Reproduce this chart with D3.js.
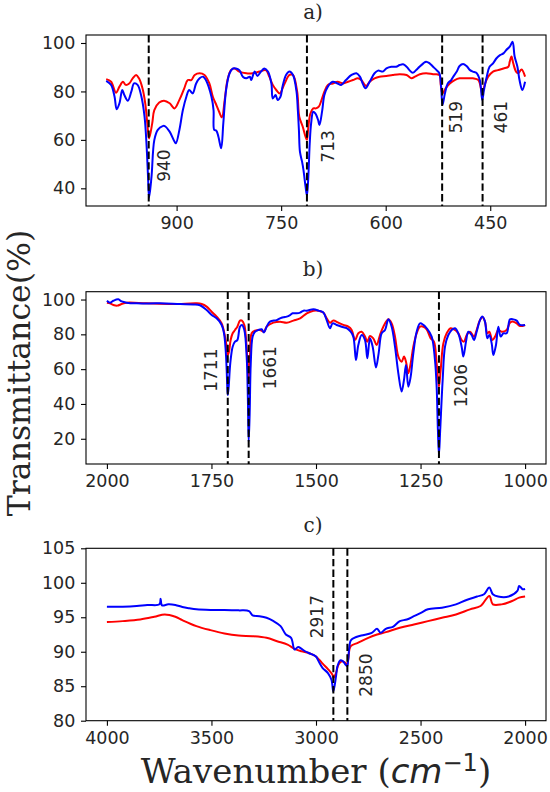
<!DOCTYPE html>
<html><head><meta charset="utf-8">
<script src="https://cdn.jsdelivr.net/npm/d3@7"></script>
<style>body{margin:0;background:#fff}</style>
</head><body>
<svg id="chart" width="550" height="792"></svg>
<script>
// ---------------- DATA ----------------
// Panel a) 1000–400 cm-1  [wavenumber, transmittance]
const aRed = [[1001,85.1],[994,84.0],[987,79.5],[982,82.0],[977,84.0],[973,82.7],[968,83.3],[963,85.4],[958,86.8],[954,85.4],[949,81.3],[945,75.1],[942,66.8],[939.5,60.6],[935,66.8],[932,72.3],[925,75.4],[918,76.2],[910,75.1],[903,73.0],[896,76.5],[889,81.3],[884,84.7],[879,84.7],[874,86.8],[867,87.5],[860,86.8],[853,83.3],[848,77.8],[843,74.4],[839,71.6],[835,69.3],[831,76.5],[827,84.7],[822,88.8],[817,89.5],[810,88.2],[800,87.5],[791,87.5],[781,88.2],[772,88.8],[767,86.1],[762,82.7],[757,80.6],[752,79.2],[745,83.3],[738,86.8],[733,86.8],[727,79.9],[724,69.6],[719,65.4],[715,61.3],[713,60.0],[711,65.4],[708,70.9],[704,73.0],[700,73.0],[696,73.7],[692,76.5],[688,79.9],[683,82.7],[676,83.3],[669,84.0],[661,83.3],[654,84.0],[647,84.7],[640,85.4],[635,84.7],[630,82.7],[628,82.2],[623,84.0],[616,85.4],[609,86.1],[599,86.4],[590,86.8],[580,87.1],[570,86.8],[563,85.4],[558,86.1],[551,87.1],[542,87.5],[532,87.1],[523,86.8],[521,82.7],[518.5,79.2],[514,81.3],[508,83.3],[501,84.7],[494,85.4],[484,85.4],[475,85.4],[467,84.7],[461.5,79.2],[458,82.7],[453,86.1],[446,88.2],[439,88.8],[431,89.5],[424,90.2],[422,92.3],[419.5,94.4],[417,91.6],[413,88.2],[410,87.5],[405,89.1],[400,86.1]];
const aBlue = [[1001,84.4],[994,82.7],[989,77.8],[986,72.6],[982,75.1],[978,80.6],[975,78.5],[970,76.2],[965,79.9],[961,83.3],[956,82.7],[951,78.5],[946,69.6],[943,57.2],[941,44.8],[939.5,36.1],[936,44.8],[932,59.9],[927,64.1],[920,65.7],[917,65.7],[910,63.4],[903,59.3],[901,58.6],[896,64.1],[891,72.3],[886,77.8],[882,80.6],[877,79.2],[872,83.3],[867,85.4],[862,86.1],[858,84.7],[850,77.8],[847,72.3],[846,64.1],[843,63.8],[840,61.3],[836,56.5],[833,66.8],[829,80.6],[824,87.5],[819,89.5],[815,89.5],[810,88.8],[805,86.1],[800,85.4],[795,86.1],[793,84.7],[788,88.2],[784,86.4],[779,88.2],[774,89.5],[769,88.2],[764,83.3],[762,77.1],[758,78.5],[755,76.5],[751,77.8],[748,82.0],[743,86.8],[738,88.2],[733,86.8],[728,80.0],[726,72.0],[724.5,64.0],[723,55.0],[720,51.0],[718,47.6],[715,40.7],[713,37.0],[711,44.8],[709,58.6],[707,66.8],[704,71.6],[701,70.9],[697,68.2],[695,66.1],[691,72.3],[688,78.5],[683,82.0],[676,84.0],[669,83.3],[664,82.7],[657,84.7],[649,86.8],[642,87.5],[637,86.1],[633,83.3],[629,81.3],[623,84.0],[616,87.5],[611,88.6],[604,88.2],[599,89.5],[592,90.2],[585,90.2],[580,90.9],[575,91.2],[570,90.2],[566,88.8],[561,87.7],[554,89.5],[546,91.6],[542,92.3],[537,91.6],[532,90.2],[527,88.8],[523,87.5],[520.5,82.0],[518.5,74.4],[515,79.2],[511,83.3],[506,84.7],[503,86.1],[498,88.2],[494,90.5],[489,91.3],[484,90.5],[479,88.8],[475,88.2],[470,87.7],[465,84.7],[461.5,76.5],[459,80.6],[455,86.1],[451,90.2],[446,91.6],[441,93.7],[436,95.0],[431,95.7],[427,97.1],[422,98.5],[418,100.5],[415,94.4],[411,90.2],[408,84.7],[404,80.6],[400,84.0]];
const aXTicks = [900, 750, 600, 450];
const aYTicks = [40, 60, 80, 100];
const aPeaks = [940, 713, 519, 461];
const aPeakLabels = ["940", "713", "519", "461"];
const aLabelAt = [[927.7,42.7],[691.8,50.6],[507.7,62.7],[443.2,62.7]];

// Panel b) 2000–1000 cm-1
const bRed = [[2000,98.2],[1992.6,97.8],[1984.7,96.9],[1975.1,96.5],[1964.7,97.4],[1952.8,98.2],[1905,97.8],[1841.2,97.4],[1785.4,97.8],[1773.4,97.4],[1761.5,95.9],[1749.5,93.0],[1737.6,90.2],[1725.6,86.3],[1717.6,78.7],[1713.6,72.9],[1711,68.1],[1708.1,70.0],[1704.1,76.7],[1699.3,80.6],[1693.7,82.5],[1688.1,84.4],[1681.8,87.9],[1677,87.9],[1671.4,85.4],[1667.4,77.7],[1664.2,65.2],[1661,54.7],[1657.8,67.2],[1653.9,80.6],[1645.9,82.1],[1634,82.5],[1624.4,81.5],[1618,84.4],[1602.1,86.7],[1586,87.3],[1570,86.7],[1554,87.9],[1538,89.2],[1522,92.1],[1506,93.6],[1494,93.6],[1482.5,92.5],[1474.5,89.2],[1466.5,86.7],[1458.6,87.9],[1446.6,86.7],[1434.7,85.4],[1422.7,84.4],[1414.7,82.5],[1406.7,76.7],[1398.8,80.6],[1390.8,81.5],[1382.8,78.7],[1377.3,75.8],[1370.9,79.0],[1363,77.7],[1355,73.9],[1347,79.6],[1339,84.4],[1327,88.6],[1319.1,86.3],[1311.1,78.7],[1303.1,67.2],[1295.2,64.3],[1289.6,67.2],[1284.8,64.3],[1279.2,57.6],[1273.6,63.3],[1267.3,72.9],[1259.3,80.6],[1251.3,84.4],[1243.3,84.4],[1235.4,82.9],[1225.8,77.7],[1217.9,75.8],[1211.5,63.3],[1206,49.9],[1201.9,59.5],[1195.5,74.8],[1187.5,80.6],[1178,83.5],[1167.6,82.5],[1159.7,80.6],[1151.7,76.7],[1146.1,75.8],[1139.7,79.6],[1131.7,81.5],[1122.2,78.7],[1115.8,82.5],[1107.8,88.2],[1101.5,89.8],[1095.9,87.3],[1090.3,80.6],[1085.5,81.5],[1078.3,76.7],[1071.9,78.7],[1064,82.5],[1056,81.5],[1044.1,82.5],[1036.1,86.7],[1028.1,87.3],[1020.2,86.3],[1012.2,84.8],[1000,85.4]];
const bBlue = [[2000,99.3],[1992.6,98.2],[1984.7,99.3],[1972.7,100.1],[1964.7,98.9],[1952.8,98.2],[1928.9,97.8],[1873.1,97.8],[1825.2,97.4],[1793.4,97.2],[1777.4,96.7],[1761.5,94.0],[1749.5,91.1],[1737.6,89.2],[1725.6,85.4],[1720,80.6],[1716,71.0],[1713.6,59.5],[1712.2,49.9],[1711,45.1],[1708.8,49.9],[1705,63.3],[1699.3,72.9],[1693.7,75.8],[1688.1,76.7],[1681.8,84.4],[1677,85.4],[1671.4,82.5],[1665.8,67.2],[1663,44.2],[1661,18.3],[1658.6,34.6],[1656,63.3],[1651.5,78.7],[1645.9,81.5],[1637.9,82.5],[1630,82.9],[1624.4,81.0],[1618,84.4],[1610,87.3],[1594,88.2],[1586,89.2],[1578,89.8],[1570,90.2],[1562,91.1],[1556,92.1],[1546,92.1],[1538,92.5],[1530,93.6],[1522,93.6],[1506,94.4],[1494,93.6],[1482.5,92.5],[1474.5,88.2],[1466.5,83.5],[1460.2,86.3],[1450.6,85.4],[1438.6,84.4],[1426.7,83.5],[1417.1,81.5],[1410.7,78.7],[1404.4,65.2],[1398.8,73.9],[1390.8,79.6],[1382.8,76.7],[1377.3,66.2],[1370.9,77.7],[1364.5,72.9],[1356.5,61.0],[1350.2,69.1],[1343,80.6],[1335,82.5],[1327,88.6],[1319.1,84.4],[1311.1,72.9],[1303.1,57.6],[1295.2,47.1],[1289.6,53.8],[1284.8,62.4],[1279.2,49.9],[1273.6,55.7],[1267.3,69.1],[1259.3,81.5],[1251.3,86.3],[1243.3,85.4],[1235.4,83.5],[1223.4,78.7],[1215.5,65.2],[1211.5,49.9],[1208.5,25.0],[1206,10.7],[1203,25.0],[1197.1,53.8],[1191.5,72.9],[1183.6,79.6],[1175.6,82.5],[1167.6,83.5],[1159.7,80.6],[1151.7,72.9],[1147.7,67.2],[1141.3,75.8],[1135.7,81.5],[1127.8,79.6],[1122.2,76.7],[1115.8,81.5],[1107.8,88.2],[1102.3,90.2],[1095.9,87.3],[1090.3,77.7],[1085.5,79.6],[1079.9,74.8],[1075.9,68.1],[1069.6,73.9],[1064,84.4],[1058.4,78.7],[1052.1,80.6],[1044.1,80.6],[1036.1,88.6],[1028.1,88.6],[1020.2,87.9],[1012.2,85.4],[1000,85.4]];
const bXTicks = [2000, 1750, 1500, 1250, 1000];
const bYTicks = [20, 40, 60, 80, 100];
const bPeaks = [1711, 1661, 1206];
const bPeakLabels = ["1711", "1661", "1206"];
const bLabelAt = [[1765.4,47.0],[1624.3,48.4],[1167.6,38.1]];

// Panel c) 4000–2000 cm-1
const cRed = [[4000,94.3],[3924.5,94.44],[3840.6,94.68],[3773.5,95.07],[3723.2,95.41],[3672.8,95.07],[3639.3,94.58],[3572.1,93.72],[3505,93.13],[3437.9,92.65],[3370.8,92.35],[3303.7,92.26],[3236.6,92.02],[3186.2,91.53],[3135.9,91.04],[3102.3,90.41],[3068.8,90.07],[3035.2,89.82],[3001.6,89.34],[2984.9,88.85],[2968.1,88.27],[2942.9,87.49],[2921.1,86.66],[2917,86.2],[2904.3,86.91],[2892.6,88.12],[2875.8,88.61],[2859,88.37],[2851,88.1],[2846,88.85],[2833.9,90.8],[2800.3,91.28],[2750,92.02],[2708,92.5],[2666.1,92.84],[2599,93.47],[2531.8,93.96],[2464.7,94.44],[2397.6,94.93],[2330.5,95.41],[2263.4,96.15],[2213,96.63],[2171.1,98.09],[2154.3,96.87],[2112.4,96.87],[2062,97.36],[2028.5,97.85],[2000,98.0]];
const cBlue = [[4000,96.54],[3924.5,96.54],[3857.4,96.63],[3807,96.78],[3748.3,96.87],[3743.3,97.7],[3736.6,96.73],[3706.4,96.87],[3672.8,96.78],[3639.3,96.49],[3605.7,96.30],[3572.1,96.15],[3505,96.06],[3437.9,96.06],[3370.8,96.0],[3320.5,95.9],[3303.7,95.27],[3270.1,95.16],[3236.6,94.93],[3203,94.44],[3169.4,93.72],[3144.3,92.5],[3119.1,92.02],[3102.3,90.31],[3085.5,90.7],[3068.8,90.41],[3052,90.07],[3035.2,89.82],[3001.6,89.34],[2984.9,88.46],[2968.1,87.64],[2942.9,86.91],[2926.1,85.93],[2917,84.23],[2904.3,86.42],[2897.6,87.88],[2884.2,88.75],[2870.8,88.61],[2859,88.12],[2851,87.9],[2846,88.85],[2833.9,91.62],[2817.1,92.02],[2783.5,92.35],[2733.2,92.74],[2708,93.33],[2691.2,92.74],[2666.1,93.33],[2632.5,93.62],[2599,94.44],[2565.4,94.68],[2531.8,95.16],[2498.3,95.65],[2464.7,96.15],[2397.6,96.39],[2330.5,96.87],[2280.2,97.51],[2229.8,98.0],[2196.3,98.34],[2171.1,99.31],[2154.3,98.34],[2129.1,98.0],[2078.8,98.0],[2036.9,98.82],[2028.5,99.55],[2012,99.07],[2000,99.1]];
const cXTicks = [4000, 3500, 3000, 2500, 2000];
const cYTicks = [80, 85, 90, 95, 100, 105];
const cPeaks = [2917, 2850];
const cPeakLabels = ["2917", "2850"];
const cLabelAt = [[3026.8,91.95],[2792,83.48]];

const panelTitles = ["a)", "b)", "c)"];
const yAxisTitle = "Transmittance(%)";

// ---------------- DRAW ----------------
const svg = d3.select('#chart');
const L = 86, R = 546;
const SANS = "'DejaVu Sans', sans-serif";
const SERIF = "'DejaVu Serif', serif";
const TXT = "#262626";

const panels = [
  {title: panelTitles[0], top: 35, bottom: 206, xd: [1030, 370], yd: [32.7, 103.3], xt: aXTicks, yt: aYTicks, red: aRed, blue: aBlue, peaks: aPeaks, labels: aPeakLabels, at: aLabelAt},
  {title: panelTitles[1], top: 291.7, bottom: 464, xd: [2050, 950], yd: [5.5, 104.5], xt: bXTicks, yt: bYTicks, red: bRed, blue: bBlue, peaks: bPeaks, labels: bPeakLabels, at: bLabelAt},
  {title: panelTitles[2], top: 548.3, bottom: 720.7, xd: [4100, 1900], yd: [80, 105], xt: cXTicks, yt: cYTicks, red: cRed, blue: cBlue, peaks: cPeaks, labels: cPeakLabels, at: cLabelAt}
];

panels.forEach((p, i) => {
  const x = d3.scaleLinear().domain(p.xd).range([L, R]);
  const y = d3.scaleLinear().domain(p.yd).range([p.bottom, p.top]);
  const g = svg.append('g');
  const clipId = 'clip' + i;
  g.append('clipPath').attr('id', clipId).append('rect')
    .attr('x', L).attr('y', p.top).attr('width', R - L).attr('height', p.bottom - p.top);

  const line = d3.line().x(d => x(d[0])).y(d => y(d[1])).curve(d3.curveCatmullRom.alpha(0.5));
  const lines = g.append('g').attr('clip-path', `url(#${clipId})`);
  lines.append('path').datum(p.red).attr('d', line).attr('fill', 'none')
    .attr('stroke', '#ff0000').attr('stroke-width', 2).attr('stroke-linejoin', 'round');
  lines.append('path').datum(p.blue).attr('d', line).attr('fill', 'none')
    .attr('stroke', '#0000ff').attr('stroke-width', 2).attr('stroke-linejoin', 'round');

  // dashed peak markers
  g.selectAll('line.peak').data(p.peaks).join('line').attr('class', 'peak')
    .attr('x1', d => x(d)).attr('x2', d => x(d))
    .attr('y1', p.top).attr('y2', p.bottom)
    .attr('stroke', '#000').attr('stroke-width', 2).attr('stroke-dasharray', '7.4,3.2');

  // peak labels (rotated)
  const fs = 17;
  g.selectAll('text.plab').data(p.labels).join('text').attr('class', 'plab')
    .attr('transform', (d, k) => `translate(${x(p.at[k][0]) + fs * 0.73},${y(p.at[k][1])}) rotate(-90)`)
    .attr('font-family', SANS).attr('font-size', fs).attr('fill', TXT)
    .attr('text-anchor', 'start').text(d => d);

  // axes
  const xa = d3.axisBottom(x).tickValues(p.xt).tickFormat(d3.format('d')).tickSize(5).tickPadding(5.5).tickSizeOuter(0);
  const ya = d3.axisLeft(y).tickValues(p.yt).tickFormat(d3.format('d')).tickSize(5).tickPadding(5.7).tickSizeOuter(0);
  const gx = g.append('g').attr('transform', `translate(0,${p.bottom})`).call(xa);
  const gy = g.append('g').attr('transform', `translate(${L},0)`).call(ya);
  [gx, gy].forEach(a => {
    a.select('.domain').remove();
    a.selectAll('line').attr('stroke', '#000').attr('stroke-width', 1.1);
    a.selectAll('text').attr('font-family', SANS).attr('font-size', 17.5).attr('fill', TXT);
  });

  // box
  g.append('rect').attr('x', L).attr('y', p.top).attr('width', R - L).attr('height', p.bottom - p.top)
    .attr('fill', 'none').attr('stroke', '#000').attr('stroke-width', 1.1);

  // title
  g.append('text').attr('x', 313).attr('y', p.top - 16)
    .attr('text-anchor', 'middle').attr('font-family', SERIF).attr('font-size', 20).attr('fill', TXT)
    .text(p.title);
});

// y-axis title
svg.append('text').attr('transform', 'translate(29.5,373) rotate(-90)')
  .attr('text-anchor', 'middle').attr('font-family', SERIF).attr('font-size', 31.5).attr('fill', TXT)
  .text(yAxisTitle);

// x-axis title
const xt = svg.append('text').attr('x', (L + R) / 2).attr('y', 783)
  .attr('text-anchor', 'middle').attr('font-family', SERIF).attr('font-size', 34).attr('fill', TXT);
xt.append('tspan').text('Wavenumber (');
xt.append('tspan').attr('font-family', SANS).attr('font-style', 'italic').text('cm');
xt.append('tspan').attr('font-family', SANS).attr('font-size', 24).attr('dy', -12).text('\u22121');
xt.append('tspan').attr('dy', 12).text(')');
</script>
</body></html>
